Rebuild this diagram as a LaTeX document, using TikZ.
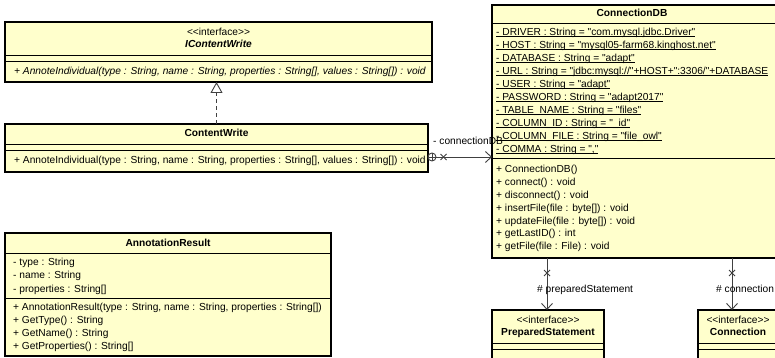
\documentclass[tikz,border=0pt]{standalone}
\usepackage{fontspec}
\newfontfamily\uml{Liberation Sans}
\usetikzlibrary{arrows.meta,calc}
\definecolor{umlfill}{HTML}{FFFFCC}
\definecolor{conn}{HTML}{404040}
\newcommand\ulx[1]{\setbox0\hbox{#1}\rlap{\rule[-1.7pt]{\wd0}{0.6pt}}\box0}
\begin{document}
\begin{tikzpicture}[x=1pt,y=-1pt,
  umlbox/.style={draw=black,line width=1.4pt,fill=umlfill,inner sep=0,outer sep=0,anchor=north west},
  sepline/.style={draw=black,line width=0.8pt},
  lt/.style={anchor=mid west,inner sep=0,font=\uml\fontsize{10.2}{12}\selectfont},
  ct/.style={anchor=mid,inner sep=0,font=\uml\fontsize{10.2}{12}\selectfont},
  bt/.style={ct,font=\uml\bfseries\fontsize{10.2}{12}\selectfont},
  assoc/.style={draw=conn,line width=0.9pt,-{Straight Barb[length=6pt,width=11pt,line width=0.9pt]}},
  xmark/.style={draw=conn,line width=0.9pt}
]
\useasboundingbox (0,0) rectangle (775,358);
\clip (0,0) rectangle (775,358);
\fill[white] (0,0) rectangle (775,358);

% IContentWrite
\node[umlbox,minimum width=427,minimum height=60] (icw) at (5,22) {};
\draw[sepline] (5,55) -- (432,55);
\draw[sepline] (5,61) -- (432,61);
\node[ct] (icw1) at (218.5,33) {<<interface>>};
\node[bt,font=\uml\bfseries\itshape\fontsize{10.2}{12}\selectfont] (icw2) at (218.5,45) {IContentWrite};
\node[lt,font=\uml\itshape\fontsize{10.2}{12}\selectfont] (icw3) at (14,72) {+ AnnoteIndividual(type : String, name : String, properties : String[], values : String[]) : void};

% ContentWrite
\node[umlbox,minimum width=423,minimum height=48] (cw) at (5,124) {};
\draw[sepline] (5,144) -- (428,144);
\draw[sepline] (5,150) -- (428,150);
\node[bt] (cw1) at (216.5,134) {ContentWrite};
\node[lt] (cw2) at (14,161) {+ AnnoteIndividual(type : String, name : String, properties : String[], values : String[]) : void};

% AnnotationResult
\node[umlbox,minimum width=326,minimum height=123] (ar) at (5,233) {};
\draw[sepline] (5,253) -- (331,253);
\draw[sepline] (5,298) -- (331,298);
\node[bt] (ar0) at (168,244) {AnnotationResult};
\node[lt] (ar1) at (13,263) {- type : String};
\node[lt] (ar2) at (13,276.5) {- name : String};
\node[lt] (ar3) at (13,290) {- properties : String[]};
\node[lt] (ar4) at (13,308.5) {+ AnnotationResult(type : String, name : String, properties : String[])};
\node[lt] (ar5) at (13,321.5) {+ GetType() : String};
\node[lt] (ar6) at (13,334.5) {+ GetName() : String};
\node[lt] (ar7) at (13,347.5) {+ GetProperties() : String[]};

% ConnectionDB
\node[umlbox,minimum width=290,minimum height=253] (cdb) at (492,5) {};
\draw[sepline] (492,23) -- (782,23);
\draw[sepline] (492,158) -- (782,158);
\node[bt] (cdb0) at (632,14.5) {ConnectionDB};
\node[lt] (c1) at (496,33) {\ulx{- DRIVER : String = "com.mysql.jdbc.Driver"}};
\node[lt] (c2) at (496,46) {\ulx{- HOST : String = "mysql05-farm68.kinghost.net"}};
\node[lt] (c3) at (496,59) {\ulx{- DATABASE : String = "adapt"}};
\node[lt] (c4) at (496,72) {\ulx{- URL : String = "jdbc:mysql://"+HOST+":3306/"+DATABASE}};
\node[lt] (c5) at (496,85) {\ulx{- USER : String = "adapt"}};
\node[lt] (c6) at (496,98) {\ulx{- PASSWORD : String = "adapt2017"}};
\node[lt] (c7) at (496,111) {\ulx{- TABLE\_NAME : String = "files"}};
\node[lt] (c8) at (496,124) {\ulx{- COLUMN\_ID : String = "\_id"}};
\node[lt] (c9) at (496,137) {\ulx{- COLUMN\_FILE : String = "file\_owl"}};
\node[lt] (c10) at (496,150) {\ulx{- COMMA : String = ","}};
\node[lt] (m1) at (496,170) {+ ConnectionDB()};
\node[lt] (m2) at (496,183) {+ connect() : void};
\node[lt] (m3) at (496,196) {+ disconnect() : void};
\node[lt] (m4) at (496,209) {+ insertFile(file : byte[]) : void};
\node[lt] (m5) at (496,222) {+ updateFile(file : byte[]) : void};
\node[lt] (m6) at (496,234.5) {+ getLastID() : int};
\node[lt] (m7) at (496,247) {+ getFile(file : File) : void};

% PreparedStatement
\node[umlbox,minimum width=112,minimum height=60] (ps) at (492,310) {};
\draw[sepline] (492,343) -- (604,343);
\draw[sepline] (492,349) -- (604,349);
\node[ct] (ps1) at (548,321) {<<interface>>};
\node[bt] (ps2) at (548,333) {PreparedStatement};

% Connection
\node[umlbox,minimum width=80,minimum height=60] (cn) at (698,310) {};
\draw[sepline] (698,343) -- (778,343);
\draw[sepline] (698,349) -- (778,349);
\node[ct] (cn1) at (738,321) {<<interface>>};
\node[bt] (cn2) at (738,333) {Connection};

% realization
\draw[draw=conn,line width=0.9pt,dash pattern=on 4pt off 3pt,-{Triangle[open,length=11pt,width=12pt,line width=0.9pt,fill=white]}] (cw.north) -- (cw.north |- icw.south);

% association ContentWrite -> ConnectionDB
\path (cw.north east) ++(0,33) coordinate (a1);
\draw[assoc] (a1) -- (a1 -| cdb.west);
\draw[xmark] ($(a1)+(4,0)$) circle[radius=4];
\draw[xmark] ($(a1)+(4,-4)$) -- ($(a1)+(4,4)$);
\draw[xmark] ($(a1)+(12.5,-3)$) -- ($(a1)+(18.5,3)$);
\draw[xmark] ($(a1)+(12.5,3)$) -- ($(a1)+(18.5,-3)$);
\node[lt] (l1) at (433,142.5) {- connectionDB};

% associations to PreparedStatement / Connection
\path (cdb.south west) ++(55,0) coordinate (b1);
\path (cdb.south west) ++(240,0) coordinate (b2);
\draw[assoc] (b1) -- (b1 |- ps.north);
\draw[assoc] (b2) -- (b2 |- cn.north);
\draw[xmark] ($(b1)+(-3,12)$) -- ($(b1)+(3,18)$);
\draw[xmark] ($(b1)+(3,12)$) -- ($(b1)+(-3,18)$);
\draw[xmark] ($(b2)+(-3,12)$) -- ($(b2)+(3,18)$);
\draw[xmark] ($(b2)+(3,12)$) -- ($(b2)+(-3,18)$);
\node[lt] (l2) at (537,290) {\# preparedStatement};
\node[lt] (l3) at (716,290) {\# connection};
\end{tikzpicture}
\end{document}
